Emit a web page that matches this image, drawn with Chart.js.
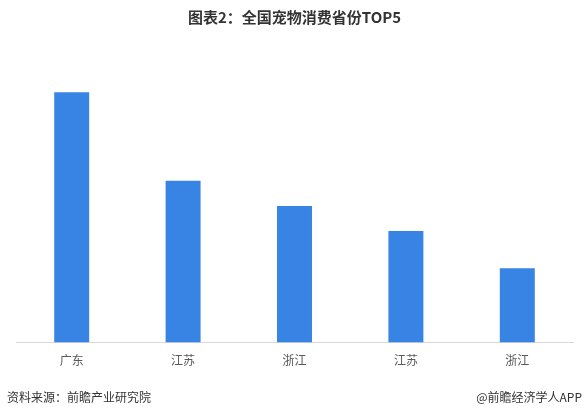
<!DOCTYPE html>
<html lang="zh">
<head>
    <meta charset="UTF-8">
    <title>全国宠物消费省份TOP5</title>
    <script src="https://cdn.jsdelivr.net/npm/chart.js@4.4.1/dist/chart.umd.min.js"></script>
    <style>
        body {
            margin: 0;
            background-color: #ffffff;
            font-family: "Noto Sans CJK SC", "Noto Sans", sans-serif;
        }
        #wrap {
            position: relative;
            width: 584px;
            height: 419px;
        }
        .note {
            position: absolute;
            top: 388px;
            font-size: 12px;
            color: #333333;
        }
    </style>
</head>
<body>
    <div id="wrap">
        <canvas id="petChart" width="584" height="419"></canvas>
        <div class="note" style="left: 7px;">资料来源：前瞻产业研究院</div>
        <div class="note" style="right: 2px;">@前瞻经济学人APP</div>
    </div>
    <script>
        const provinces = ['广东', '江苏', '浙江', '江苏', '浙江'];
        const values = [249, 161, 136, 111, 74];

        const ctx = document.getElementById('petChart').getContext('2d');

        const petChart = new Chart(ctx, {
            type: 'bar',
            data: {
                labels: provinces,
                datasets: [{
                    label: '宠物消费',
                    data: values,
                    backgroundColor: '#3884e4',
                    barPercentage: 0.314,
                    categoryPercentage: 1
                }]
            },
            options: {
                responsive: false,
                animation: false,
                layout: {
                    padding: { left: 16, right: 11, top: 0, bottom: 48 }
                },
                plugins: {
                    legend: { display: false },
                    tooltip: { enabled: false },
                    title: {
                        display: true,
                        text: '图表2：全国宠物消费省份TOP5',
                        color: '#333333',
                        font: { family: '"Noto Sans CJK SC"', size: 15, weight: 'bold' },
                        padding: { top: 8, bottom: 8 }
                    }
                },
                scales: {
                    x: {
                        grid: { display: false },
                        border: { display: true, color: '#d9d9d9', width: 1 },
                        ticks: {
                            color: '#595959',
                            font: { family: '"Noto Sans CJK SC"', size: 12 },
                            padding: 3
                        }
                    },
                    y: {
                        display: false,
                        min: 0,
                        max: 307
                    }
                }
            }
        });
    </script>
</body>
</html>
